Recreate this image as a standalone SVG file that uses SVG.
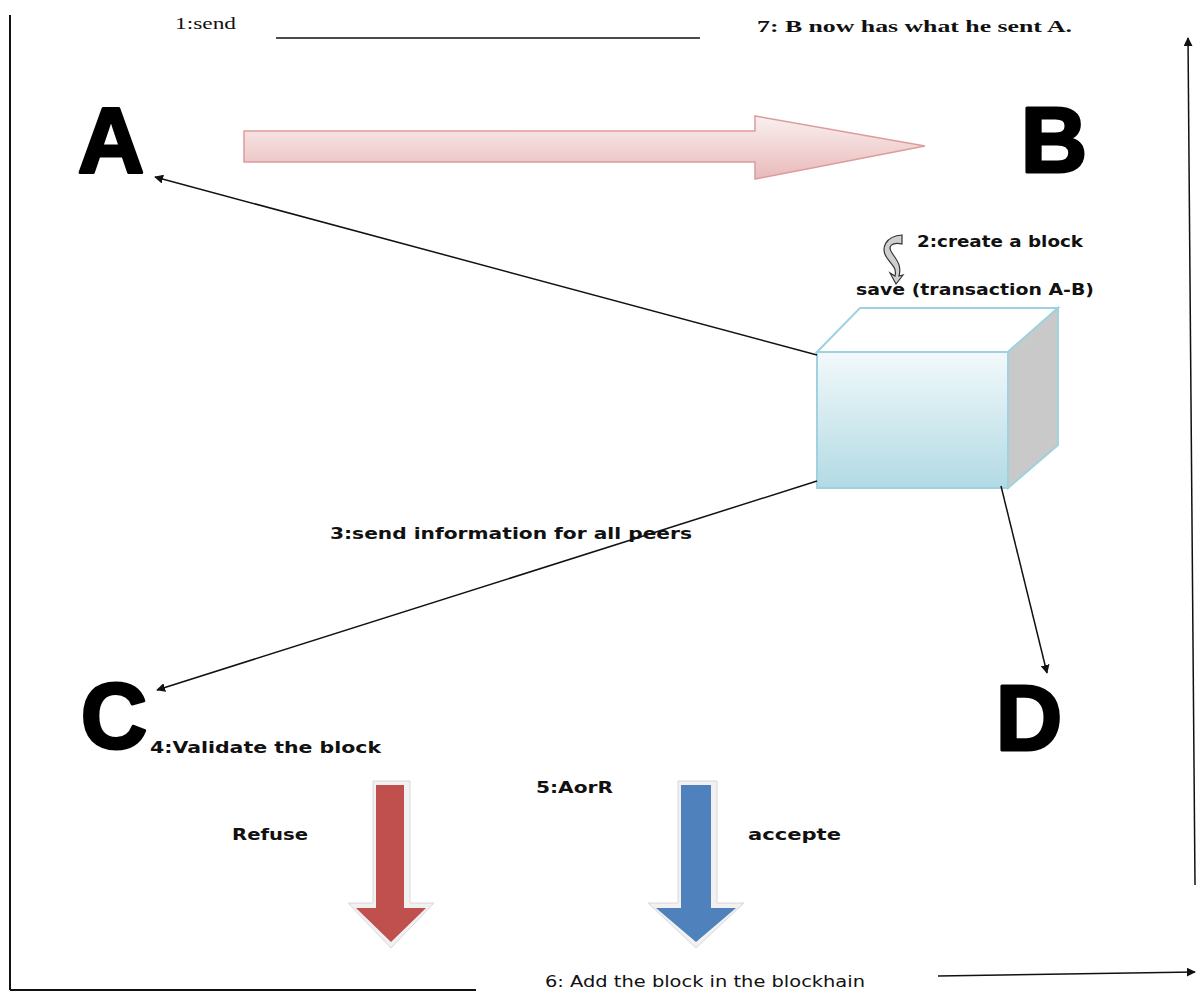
<svg xmlns="http://www.w3.org/2000/svg" width="1196" height="994" viewBox="0 0 1196 994">
  <defs>
    <style>
      .big { font-family: "Liberation Sans", Arial, sans-serif; font-weight: bold; font-size: 92px; fill: #000; stroke: #000; stroke-width: 3; stroke-linejoin: round; }
      .lbl { font-family: "DejaVu Sans", "Liberation Sans", sans-serif; font-weight: bold; font-size: 15.5px; fill: #111; }
      .lblr { font-family: "DejaVu Sans", "Liberation Sans", sans-serif; font-size: 15px; fill: #111; }
      .ser { font-family: "Liberation Serif", "Times New Roman", serif; font-size: 17px; fill: #111; }
      .edge { stroke: #111; stroke-width: 1.5; fill: none; }
      .frame { stroke: #111; stroke-width: 2; fill: none; }
    </style>
    <marker id="tip" viewBox="0 0 10 10" refX="9" refY="5" markerWidth="9" markerHeight="9" markerUnits="userSpaceOnUse" orient="auto">
      <path d="M0,0 L10,5 L0,10 z" fill="#111"/>
    </marker>
    <linearGradient id="pink" x1="0" y1="0" x2="0" y2="1">
      <stop offset="0" stop-color="#faf0f0"/>
      <stop offset="1" stop-color="#e9b9b9"/>
    </linearGradient>
    <linearGradient id="front" x1="0" y1="0" x2="0" y2="1">
      <stop offset="0" stop-color="#f2f9fb"/>
      <stop offset="1" stop-color="#b2dae4"/>
    </linearGradient>
  </defs>

  <!-- outer frame lines -->
  <g id="frame">
    <line class="frame" x1="10" y1="15" x2="10" y2="990"/>
    <line class="frame" x1="10" y1="990" x2="476" y2="990"/>
    <line x1="276" y1="38" x2="700" y2="38" stroke="#111" stroke-width="1.5"/>
  </g>

  <!-- transfer arrow A -> B -->
  <g id="transfer">
    <path d="M244,131 L755,131 L755,116 L925,146 L755,179 L755,162 L244,162 Z" fill="url(#pink)" stroke="#dc9c9c" stroke-width="1.5"/>
  </g>

  <!-- peers -->
  <g id="node-a"><text class="big" x="111" y="172" text-anchor="middle">A</text></g>
  <g id="node-b"><text class="big" x="1054" y="172" text-anchor="middle">B</text></g>
  <g id="node-c"><text class="big" x="114" y="748" text-anchor="middle">C</text></g>
  <g id="node-d"><text class="big" x="1029" y="750" text-anchor="middle">D</text></g>

  <!-- the block (cube) -->
  <g id="block">
    <path d="M817,352 L860,308 L1058,308 L1008,352 Z" fill="#ffffff" stroke="#9fd2de" stroke-width="2"/>
    <path d="M1008,352 L1058,308 L1058,445 L1008,488 Z" fill="#c9c9c9" stroke="#9fd2de" stroke-width="2"/>
    <rect x="817" y="352" width="191" height="136" fill="url(#front)" stroke="#9fd2de" stroke-width="2"/>
  </g>

  <!-- curled arrow beside "create a block" -->
  <g id="curl">
    <path d="M902,235 C886,236 880,248 887,258 C892,265 897,268 895,276 L890,273 L896,284 L903,275 L899,276 C902,265 896,259 892,253 C887,246 892,242 902,244 Z" fill="#cfcfcf" stroke="#333" stroke-width="1.2"/>
  </g>

  <!-- connectors -->
  <g id="connectors">
    <line class="edge" x1="817" y1="355" x2="155" y2="177" marker-end="url(#tip)"/>
    <line class="edge" x1="817" y1="481" x2="157" y2="690" marker-end="url(#tip)"/>
    <line class="edge" x1="1001" y1="486" x2="1047" y2="673" marker-end="url(#tip)"/>
    <line class="edge" x1="1195" y1="885" x2="1188" y2="38" marker-end="url(#tip)"/>
    <line class="edge" x1="938" y1="976" x2="1195" y2="972" marker-end="url(#tip)"/>
  </g>

  <!-- decision arrows -->
  <g id="refuse-arrow">
    <path d="M373,781 L410,781 L410,903 L434,903 L391,948 L348,903 L373,903 Z" fill="#f1f1f1" stroke="#d8d8d8" stroke-width="1"/>
    <path d="M376,785 L404,785 L404,908 L426,908 L391,942 L356,908 L376,908 Z" fill="#c0504d"/>
  </g>
  <g id="accept-arrow">
    <path d="M678,781 L717,781 L717,903 L744,903 L696,948 L648,903 L678,903 Z" fill="#f1f1f1" stroke="#d8d8d8" stroke-width="1"/>
    <path d="M681,785 L711,785 L711,908 L736,908 L696,942 L656,908 L681,908 Z" fill="#4f81bd"/>
  </g>

  <!-- labels -->
  <g id="labels">
    <text class="ser" x="175" y="29" textLength="61" lengthAdjust="spacingAndGlyphs">1:send</text>
    <text class="ser" x="757" y="32" font-weight="bold" textLength="315" lengthAdjust="spacingAndGlyphs">7:  B now has what he sent A.</text>
    <text class="lbl" x="917" y="247" textLength="166" lengthAdjust="spacingAndGlyphs">2:create a block</text>
    <text class="lbl" x="856" y="295" textLength="238" lengthAdjust="spacingAndGlyphs">save (transaction  A-B)</text>
    <text class="lbl" x="330" y="539" textLength="362" lengthAdjust="spacingAndGlyphs">3:send information for all peers</text>
    <text class="lbl" x="150" y="753" textLength="231" lengthAdjust="spacingAndGlyphs">4:Validate the block</text>
    <text class="lbl" x="536" y="793" textLength="77" lengthAdjust="spacingAndGlyphs">5:AorR</text>
    <text class="lbl" x="232" y="840" textLength="76" lengthAdjust="spacingAndGlyphs">Refuse</text>
    <text class="lbl" x="748" y="840" textLength="93" lengthAdjust="spacingAndGlyphs">accepte</text>
    <text class="lblr" x="545" y="987" textLength="320" lengthAdjust="spacingAndGlyphs">6:  Add the block in the blockhain</text>
  </g>
</svg>
